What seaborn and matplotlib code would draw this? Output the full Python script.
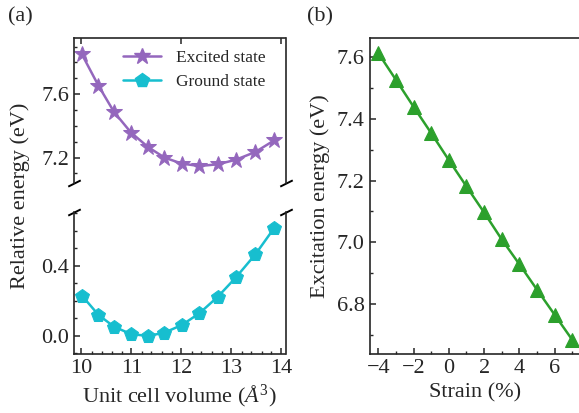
import numpy as np
import pandas as pd
import matplotlib
matplotlib.use('Agg')
import matplotlib.pyplot as plt
from matplotlib.ticker import MultipleLocator
from matplotlib.lines import Line2D
import seaborn as sns

# panel (a): energies vs unit cell volume
volume = [10.01, 10.34, 10.65, 10.99, 11.33, 11.66, 12.01, 12.36, 12.73, 13.09, 13.48, 13.86]
excited = [7.85, 7.653, 7.488, 7.358, 7.267, 7.20, 7.162, 7.147, 7.158, 7.187, 7.236, 7.31]
ground = [0.230, 0.120, 0.053, 0.011, 0.0, 0.019, 0.063, 0.130, 0.225, 0.335, 0.467, 0.619]

# panel (b): excitation energy vs strain
strain = [-4, -3, -2, -1, 0, 1, 2, 3, 4, 5, 6, 7]
exc_energy = [7.611, 7.525, 7.438, 7.353, 7.266, 7.181, 7.097, 7.010, 6.930, 6.848, 6.767, 6.686]

sns.set_style('ticks')
plt.rcParams['font.family'] = ['Liberation Serif', 'DejaVu Serif']
plt.rcParams['mathtext.fontset'] = 'custom'
plt.rcParams['mathtext.rm'] = 'Liberation Serif'
plt.rcParams['mathtext.it'] = 'Liberation Serif:italic'
plt.rcParams['font.size'] = 16

c_exc = '#9467bd'
c_gnd = '#17becf'
c_str = '#2ca02c'

fig = plt.figure(figsize=(5.79, 4.13), dpi=100)
W, H = 579, 413
def box(x0, y0, x1, y1):
    return [x0 / W, 1 - y1 / H, (x1 - x0) / W, (y1 - y0) / H]

ax_up = fig.add_axes(box(74, 38, 285.5, 183))
ax_lo = fig.add_axes(box(74, 212, 285.5, 354))
ax_b = fig.add_axes(box(369.5, 38, 581, 354))

df_a = pd.DataFrame({'volume': volume, 'excited': excited, 'ground': ground})
df_b = pd.DataFrame({'strain': strain, 'energy': exc_energy})

sns.lineplot(data=df_a, x='volume', y='excited', ax=ax_up, color=c_exc, marker='*',
             markersize=12, markeredgecolor=c_exc, linewidth=1.8)
sns.lineplot(data=df_a, x='volume', y='ground', ax=ax_lo, color=c_gnd, marker='p',
             markersize=10, markeredgecolor=c_gnd, linewidth=1.8)
sns.lineplot(data=df_b, x='strain', y='energy', ax=ax_b, color=c_str, marker='^',
             markersize=10, markeredgecolor=c_str, linewidth=1.8)

for ax in (ax_up, ax_lo, ax_b):
    ax.set_xlabel('')
    ax.set_ylabel('')
    for s in ax.spines.values():
        s.set_linewidth(1.2)
    ax.tick_params(which='major', direction='in', length=4.5, width=1.1, labelsize=16)
    ax.tick_params(which='minor', direction='in', length=2.5, width=1.0)

# upper part of broken axis
ax_up.set_xlim(9.85, 14.08)
ax_up.set_ylim(7.04, 7.954)
ax_up.set_xticks([10, 12, 14])
ax_up.yaxis.set_major_locator(MultipleLocator(0.4))
ax_up.yaxis.set_minor_locator(MultipleLocator(0.1))
ax_up.spines['bottom'].set_visible(False)
ax_up.tick_params(axis='x', bottom=False, top=True, labelbottom=False)

# lower part
ax_lo.set_xlim(9.85, 14.08)
ax_lo.set_ylim(-0.103, 0.708)
ax_lo.xaxis.set_major_locator(MultipleLocator(1))
ax_lo.xaxis.set_minor_locator(MultipleLocator(0.2))
ax_lo.yaxis.set_major_locator(MultipleLocator(0.4))
ax_lo.yaxis.set_minor_locator(MultipleLocator(0.1))
ax_lo.spines['top'].set_visible(False)
ax_lo.tick_params(axis='x', top=False)

# break marks
kw = dict(marker=[(-1, -0.5), (1, 0.5)], markersize=9, linestyle='none',
          color='k', mec='k', mew=1.4, clip_on=False)
ax_up.plot([0, 1], [0, 0], transform=ax_up.transAxes, **kw)
ax_lo.plot([0, 1], [1, 1], transform=ax_lo.transAxes, **kw)

# legend
handles = [Line2D([], [], color=c_exc, marker='*', markersize=12, lw=1.8),
           Line2D([], [], color=c_gnd, marker='p', markersize=10, lw=1.8)]
ax_up.legend(handles, ['Excited state', 'Ground state'], loc='upper right',
             frameon=False, fontsize=12.5, handlelength=2.2, handletextpad=0.9,
             borderaxespad=0.3, labelspacing=0.45, bbox_to_anchor=(0.965, 1.0))

# panel (b)
ax_b.set_xlim(-4.5, 7.5)
ax_b.set_ylim(6.64, 7.66)
ax_b.xaxis.set_major_locator(MultipleLocator(2))
ax_b.xaxis.set_minor_locator(MultipleLocator(1))
ax_b.yaxis.set_major_locator(MultipleLocator(0.2))
ax_b.yaxis.set_minor_locator(MultipleLocator(0.1))
ax_b.spines['right'].set_visible(False)
ax_b.set_xlabel('Strain (%)', fontsize=16, labelpad=4)
ax_b.set_ylabel('Excitation energy (eV)', fontsize=16, labelpad=5)

ax_lo.set_xlabel('Unit cell volume ($Å^3$)', fontsize=16, labelpad=4)
fig.text(20 / W, 1 - 196 / H, 'Relative energy (eV)', rotation=90,
         ha='center', va='center', fontsize=16)

fig.text(20 / W, 1 - 17 / H, '(a)', ha='center', va='center', fontsize=16)
fig.text(319.5 / W, 1 - 16.5 / H, '(b)', ha='center', va='center', fontsize=16)

fig.savefig('out.png', dpi=100)
